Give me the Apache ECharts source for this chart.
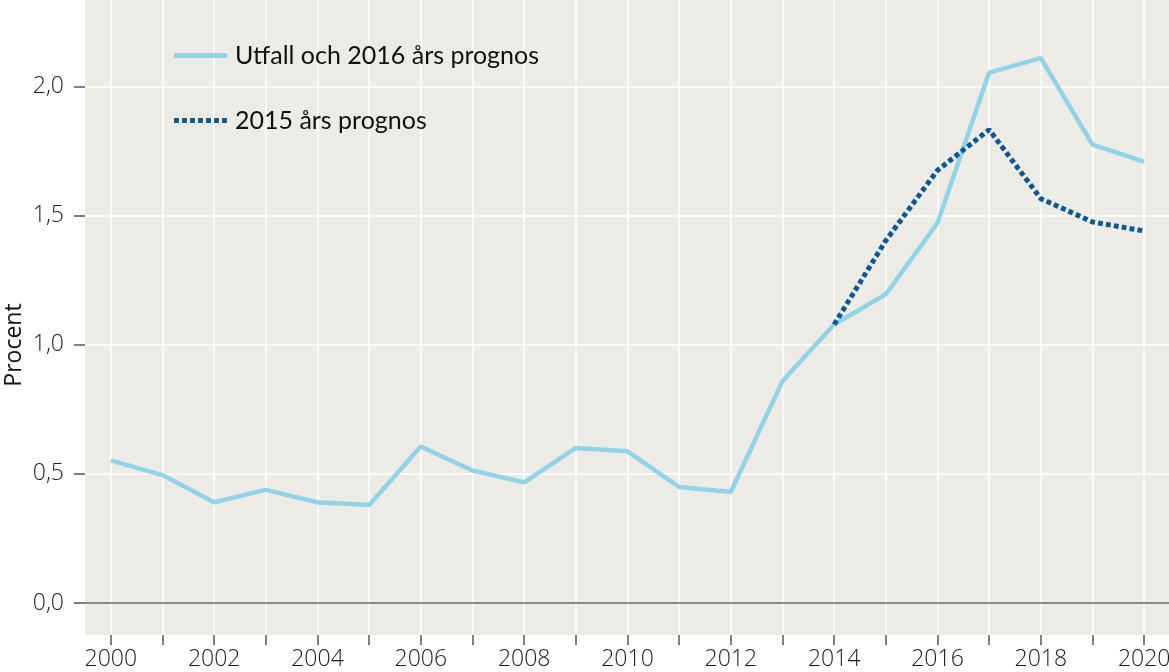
<!DOCTYPE html>
<html>
<head>
<meta charset="utf-8">
<script src="https://cdn.jsdelivr.net/npm/echarts@6/dist/echarts.min.js"></script>
<style>
html,body{margin:0;padding:0;background:#ffffff;}
#chart{width:1169px;height:672px;}
</style>
</head>
<body>
<div id="chart"></div>
<script>
const years = ['2000','2001','2002','2003','2004','2005','2006','2007','2008','2009','2010','2011','2012','2013','2014','2015','2016','2017','2018','2019','2020'];
const utfall = [0.552,0.495,0.390,0.438,0.390,0.379,0.606,0.513,0.467,0.600,0.587,0.449,0.430,0.859,1.078,1.195,1.471,2.053,2.109,1.774,1.708];
const prognos2015 = [null,null,null,null,null,null,null,null,null,null,null,null,null,null,1.078,1.403,1.675,1.832,1.565,1.475,1.440];
const seriesNames = ['Utfall och 2016 års prognos','2015 års prognos'];
const yTicks = [0, 0.5, 1.0, 1.5, 2.0];
const yAxisTitle = 'Procent';

const AXFONT = '"Open Sans", sans-serif';
const LGFONT = 'Lato, "Open Sans", sans-serif';
const BG = '#ecebe5';
const LIGHT = '#92d3e8';
const DARK = '#0a569a';

const solidIcon = 'path://M0,0H53V5H0Z';
let dotted = '';
for (let i = 0; i < 7; i++) { const x = i * 8; dotted += 'M' + x + ',0H' + (x + 4.8) + 'V5H' + x + 'Z'; }
const dottedIcon = 'path://' + dotted;

const chart = echarts.init(document.getElementById('chart'), null, {renderer: 'canvas'});
const option = {
  animation: false,
  backgroundColor: '#ffffff',
  grid: [
    {left: 85, top: 0, width: 1085, height: 635, show: true, backgroundColor: BG, borderWidth: 0, containLabel: false, outerBoundsMode: 'none'},
    {left: 85, top: 0, width: 1085, height: 603, show: false, containLabel: false, outerBoundsMode: 'none'}
  ],
  xAxis: [
    {
      type: 'category', gridIndex: 0, data: years, boundaryGap: true,
      axisLine: {show: false},
      axisTick: {show: true, alignWithLabel: true, interval: 0, length: 10, lineStyle: {color: '#555', width: 1.5}},
      axisLabel: {interval: 1, margin: 13, fontFamily: AXFONT, fontSize: 23, fontWeight: 300, color: '#1a1a1a', hideOverlap: false},
      splitLine: {show: true, alignWithLabel: true, interval: 0, lineStyle: {color: '#ffffff', width: 1.5}}
    },
    {
      type: 'category', gridIndex: 1, data: years, boundaryGap: true,
      axisLine: {show: true, onZero: false, lineStyle: {color: '#666', width: 1.5}},
      axisTick: {show: false},
      axisLabel: {show: false},
      splitLine: {show: false}
    }
  ],
  yAxis: [
    {type: 'value', gridIndex: 0, min: 0, max: 1, show: false},
    {
      type: 'value', gridIndex: 1, min: 0, max: 2.334, interval: 0.5,
      axisLine: {show: false},
      axisTick: {show: true, customValues: yTicks, length: 11, lineStyle: {color: '#555', width: 1.5}},
      axisLabel: {
        customValues: yTicks,
        margin: 21, fontFamily: AXFONT, fontSize: 23, fontWeight: 300, color: '#1a1a1a',
        formatter: function (v) { return Number(v).toFixed(1).replace('.', ','); }
      },
      splitLine: {show: true, lineStyle: {color: '#ffffff', width: 1.5}}
    }
  ],
  legend: {
    orient: 'vertical', left: 169, top: 38,
    itemWidth: 53, itemHeight: 5, itemGap: 40,
    itemStyle: {borderWidth: 0},
    textStyle: {fontFamily: LGFONT, fontSize: 25, lineHeight: 24, color: '#111', padding: [0, 0, 0, 3]},
    data: [
      {name: seriesNames[0], icon: solidIcon},
      {name: seriesNames[1], icon: dottedIcon}
    ]
  },
  graphic: [
    {type: 'text', x: 14, y: 345, rotation: Math.PI / 2,
     style: {text: yAxisTitle, fontSize: 23, fontFamily: AXFONT, fill: '#111', align: 'center', verticalAlign: 'middle'}}
  ],
  series: [
    {name: seriesNames[0], type: 'line', xAxisIndex: 1, yAxisIndex: 1, data: utfall,
     symbol: 'none', lineStyle: {color: LIGHT, width: 4.5}, itemStyle: {color: LIGHT}, z: 3},
    {name: seriesNames[1], type: 'line', xAxisIndex: 1, yAxisIndex: 1, data: prognos2015,
     symbol: 'none', connectNulls: false,
     lineStyle: {color: DARK, width: 5, type: [4.8, 3.2], cap: 'butt'}, itemStyle: {color: DARK}, z: 4}
  ]
};
chart.setOption(option);
</script>
</body>
</html>
